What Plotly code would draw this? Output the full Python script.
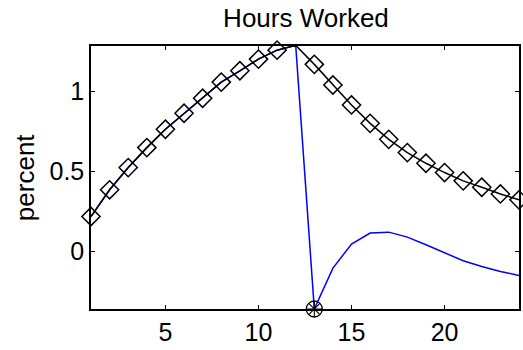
import plotly.graph_objects as go

periods = list(range(1, 25))
baseline = [0.219, 0.386, 0.525, 0.650, 0.765, 0.865, 0.959, 1.060, 1.131, 1.204,
            1.260, 1.290, 1.171, 1.042, 0.917, 0.802, 0.702, 0.619, 0.552, 0.494,
            0.442, 0.402, 0.360, 0.323]
shock = [0.219, 0.386, 0.525, 0.650, 0.765, 0.865, 0.959, 1.060, 1.131, 1.204,
         1.260, 1.290, -0.360, -0.104, 0.046, 0.115, 0.121, 0.090, 0.042, -0.010,
         -0.058, -0.094, -0.125, -0.150]
shock_period = [13]
shock_value = [-0.360]
x_ticks = [5, 10, 15, 20]
y_ticks = [0, 0.5, 1]

FONT = "Liberation Sans, Arial, Helvetica, sans-serif"

fig = go.Figure()
fig.add_trace(go.Scatter(x=periods, y=shock, mode="lines",
                         line=dict(color="#0000ff", width=1.5), cliponaxis=False))
fig.add_trace(go.Scatter(x=periods, y=baseline, mode="lines+markers",
                         line=dict(color="#000000", width=1.5),
                         marker=dict(symbol="diamond-open", size=14,
                                     color="#000000", line=dict(width=1.5, color="#000000")),
                         cliponaxis=False))
fig.add_trace(go.Scatter(x=shock_period, y=shock_value, mode="markers",
                         marker=dict(symbol="circle-open", size=16, color="#000000",
                                     line=dict(width=1.3, color="#000000")),
                         cliponaxis=False))
fig.add_trace(go.Scatter(x=shock_period, y=shock_value, mode="markers",
                         marker=dict(symbol="asterisk-open", size=13, color="#000000",
                                     line=dict(width=1.1, color="#000000")),
                         cliponaxis=False))

axis_common = dict(showgrid=False, zeroline=False, showline=True, linecolor="#000000",
                   linewidth=1.5, mirror="ticks", ticks="inside", ticklen=4,
                   tickcolor="#000000", tickwidth=1,
                   tickfont=dict(family=FONT, size=25, color="#000000"))

fig.update_layout(
    width=523, height=350,
    margin=dict(l=91, r=2, t=46, b=41),
    paper_bgcolor="white", plot_bgcolor="white",
    showlegend=False,
    title=dict(text="Hours Worked", x=0.585, xanchor="center", y=0.95, yanchor="middle",
               font=dict(family=FONT, size=26, color="#000000")),
    xaxis=dict(range=[1, 24], tickvals=x_ticks, **axis_common),
    yaxis=dict(range=[-0.36, 1.286], tickvals=y_ticks, ticktext=["0", "0.5", "1"], **axis_common),
    annotations=[dict(text="percent", textangle=-90, xref="paper", yref="paper",
                      x=-0.155, y=0.5, xanchor="center", yanchor="middle", showarrow=False,
                      font=dict(family=FONT, size=26, color="#000000"))],
)

fig.write_html("out.html", config={"displayModeBar": False},
               post_script="document.body.style.margin='0px';")
